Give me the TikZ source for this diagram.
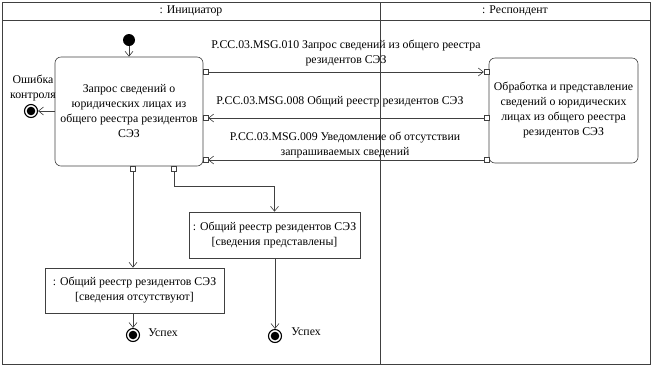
\documentclass[tikz,border=0pt]{standalone}
\usepackage{fontspec}
\setmainfont{Liberation Serif}
\usetikzlibrary{arrows.meta}
\begin{document}
\begin{tikzpicture}[x=1pt,y=-1pt,
  font=\fontsize{11.8}{15}\selectfont,
  ln/.style={draw=black!75, line width=0.6pt},
  arr/.style={ln, -{Straight Barb[length=5pt,width=8pt]}},
  act/.style={draw=black!75, line width=0.6pt, rounded corners=6pt, align=center, inner sep=0pt},
  obj/.style={draw=black!75, line width=0.6pt, align=center, inner sep=0pt},
  pin/.style={draw=black!75, fill=white, line width=0.5pt, minimum size=5pt, inner sep=0pt},
  init/.style={circle, fill=black, minimum size=12pt, inner sep=0pt},
  fin/.style={circle, draw=black, line width=1.1pt, minimum size=13pt, inner sep=0pt, path picture={\fill[black] (path picture bounding box.center) circle (4.3pt);}},
  lbl/.style={align=center, inner sep=1pt}]
\useasboundingbox (0,0) rectangle (652,368);
% frame
\draw[ln] (2,2) rectangle (650,364);
\draw[ln] (2,20) -- (650,20);
\draw[ln] (380,2) -- (380,364);
\node (h1) at (191,11) {: Инициатор};
\node (h2) at (515,11) {: Респондент};
% nodes
\node[init] (start) at (129,40) {};
\node[act, minimum width=148pt, minimum height=109pt] (main) at (129,111.5)
  {Запрос сведений о\\юридических лицах из\\общего реестра резидентов\\СЭЗ};
\node[act, minimum width=149pt, minimum height=105pt] (resp) at (563.5,110.5)
  {Обработка и представление\\сведений о юридических\\лицах из общего реестра\\резидентов СЭЗ};
\node[obj, minimum width=171pt, minimum height=46pt] (o2) at (274.5,235)
  {: Общий реестр резидентов СЭЗ\\{}[сведения представлены]};
\node[obj, minimum width=179pt, minimum height=45pt] (o3) at (134.5,290.5)
  {: Общий реестр резидентов СЭЗ\\{}[сведения отсутствуют]};
\node[fin] (err) at (31,111) {};
\node[lbl] (errl) at (33,88) {Ошибка\\контроля};
\node[fin] (f1) at (133,335) {};
\node[fin] (f2) at (275,336) {};
\node (s1) at (163,333) {Успех};
\node (s2) at (306,332) {Успех};
% pins
\node[pin] (p1) at (205.5,72) {};
\node[pin] (p1r) at (486.5,72) {};
\node[pin] (p2) at (205.5,118) {};
\node[pin] (p2r) at (486.5,118) {};
\node[pin] (p3) at (205.5,160) {};
\node[pin] (p3r) at (486.5,160) {};
\node[pin] (pb1) at (133,169) {};
\node[pin] (pb2) at (174,169) {};
% connectors
\draw[arr] (start) -- (main.north -| start);
\draw[arr] (main.west |- err) -- (err);
\draw[arr] (p1) -- (p1r);
\draw[arr] (p2r) -- (p2);
\draw[arr] (p3r) -- (p3);
\draw[arr] (pb1) -- (pb1 |- o3.north);
\coordinate (bend) at (174,186);
\draw[arr] (pb2) -- (bend) -| (o2.north);
\draw[arr] (o3.south -| f1) -- (f1);
\draw[arr] (o2.south -| f2) -- (f2);
% labels
\node[lbl] (m1) at (346,53) {P.CC.03.MSG.010 Запрос сведений из общего реестра\\резидентов СЭЗ};
\node[lbl] (m2) at (340,102) {P.CC.03.MSG.008 Общий реестр резидентов СЭЗ};
\node[lbl] (m3) at (345,145.5) {P.CC.03.MSG.009 Уведомление об отсутствии\\запрашиваемых сведений};
\end{tikzpicture}
\end{document}
